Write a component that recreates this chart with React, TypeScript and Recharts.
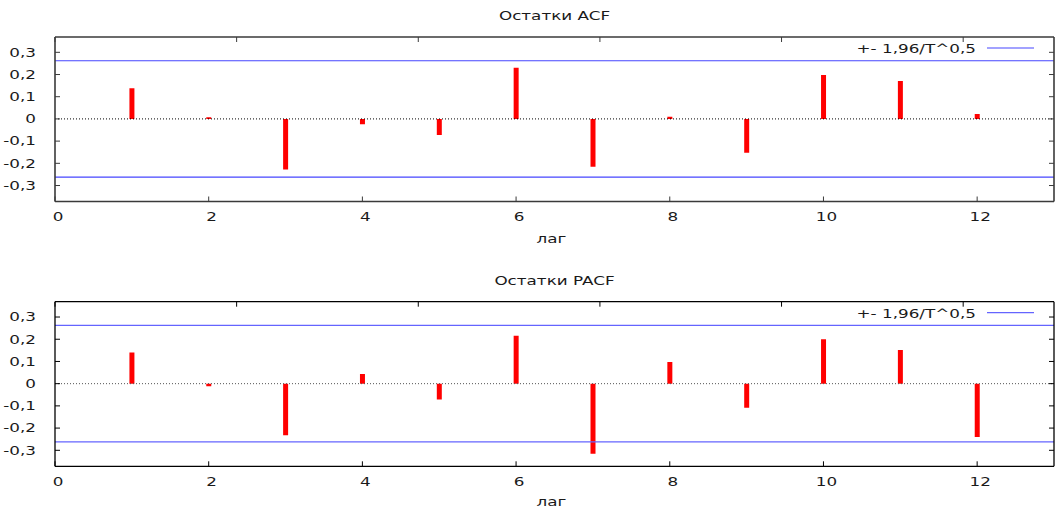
import React from "react";
import { ComposedChart, Bar, XAxis, YAxis, ReferenceLine } from "recharts";

// Residual autocorrelations by lag
const lags = [1, 2, 3, 4, 5, 6, 7, 8, 9, 10, 11, 12];
const acfValues = [0.138, 0.008, -0.228, -0.024, -0.072, 0.231, -0.215, 0.01, -0.152, 0.198, 0.171, 0.022];
const pacfValues = [0.14, -0.012, -0.232, 0.044, -0.071, 0.216, -0.315, 0.097, -0.108, 0.2, 0.152, -0.24];

const xTicks = [0, 2, 4, 6, 8, 10, 12];
const yTicks = [-0.3, -0.2, -0.1, 0, 0.1, 0.2, 0.3];
const xDomain: [number, number] = [0, 13];
const yDomain: [number, number] = [-0.372, 0.369];

// 95% band: +- 1.96 / sqrt(T)
const confidenceBound = 0.262;
const boundLabel = "+- 1,96/T^0,5";
const xAxisLabel = "лаг";

const FONT = "DejaVu Sans, sans-serif";
const TEXT_COLOR = "#1a1a1a";
const TICK_LEN = 5;

const formatY = (v: number) => (v === 0 ? "0" : v.toFixed(1).replace(".", ","));

// Text drawn in a horizontally widened face
function WideText({ x, y, anchor, children }: { x: number; y: number; anchor: "start" | "middle" | "end"; children: React.ReactNode }) {
  return (
    <text
      transform={`translate(${x},${y}) scale(1.4,1)`}
      x={0}
      y={0}
      dy="0.36em"
      textAnchor={anchor}
      fontFamily={FONT}
      fontSize={12}
      fill={TEXT_COLOR}
    >
      {children}
    </text>
  );
}

type PanelProps = {
  title: string;
  values: number[];
  height: number;
  marginTop: number;
  marginBottom: number;
  xLabelOffset: number;
  frameColor: string;
  frameWidth: number;
  boundColor: string;
  zeroColor: string;
};

function Panel({ title, values, height, marginTop, marginBottom, xLabelOffset, frameColor, frameWidth, boundColor, zeroColor }: PanelProps) {
  const data = lags.map((lag, i) => ({ lag, value: values[i] }));
  const tickStroke = frameColor;

  const leftTick = (p: any) => (
    <g>
      <line x1={p.x} y1={p.y} x2={p.x + TICK_LEN} y2={p.y} stroke={tickStroke} strokeWidth={1} />
      <WideText x={p.x - 19} y={p.y} anchor="end">{formatY(p.payload.value)}</WideText>
    </g>
  );
  const rightTick = (p: any) => (
    <line x1={p.x} y1={p.y} x2={p.x - TICK_LEN} y2={p.y} stroke={tickStroke} strokeWidth={1} />
  );
  const bottomTick = (p: any) => (
    <g>
      <line x1={p.x} y1={p.y} x2={p.x} y2={p.y - TICK_LEN} stroke={tickStroke} strokeWidth={1} />
      <WideText x={p.x + 3} y={p.y + 15.5} anchor="middle">{String(p.payload.value)}</WideText>
    </g>
  );
  const topTick = (p: any) => (
    <line x1={p.x} y1={p.y} x2={p.x} y2={p.y + TICK_LEN} stroke={tickStroke} strokeWidth={1} />
  );

  const titleContent = (props: any) => {
    const vb = props.viewBox;
    const right = vb.x + vb.width;
    const top = vb.y + vb.height;
    const legendY = top + 11;
    return (
      <g>
        <WideText x={vb.x + vb.width / 2} y={top - 21} anchor="middle">{title}</WideText>
        <WideText x={right - 78} y={legendY + 1} anchor="end">{boundLabel}</WideText>
        <line x1={right - 67} y1={legendY} x2={right - 20} y2={legendY} stroke={boundColor} strokeWidth={1.2} />
      </g>
    );
  };

  const xLabelContent = (props: any) => {
    const vb = props.viewBox;
    return <WideText x={vb.x + vb.width / 2 - 3} y={vb.y + xLabelOffset} anchor="middle">{xAxisLabel}</WideText>;
  };

  const frameLine = { stroke: frameColor, strokeWidth: frameWidth };

  return (
    <ComposedChart
      width={1055}
      height={height}
      data={data}
      margin={{ top: marginTop - 1, right: 0, bottom: marginBottom, left: 0 }}
    >
      <XAxis
        dataKey="lag"
        type="number"
        domain={xDomain}
        ticks={xTicks}
        allowDataOverflow
        height={40}
        tickSize={0}
        tickMargin={0}
        tickLine={false}
        axisLine={frameLine}
        tick={bottomTick}
        interval={0}
        label={{ content: xLabelContent }}
      />
      <XAxis
        xAxisId="top"
        orientation="top"
        type="number"
        domain={xDomain}
        ticks={xTicks}
        allowDataOverflow
        height={1}
        tickSize={0}
        tickMargin={0}
        tickLine={false}
        axisLine={frameLine}
        tick={topTick}
        interval={0}
        label={{ content: titleContent }}
      />
      <YAxis
        type="number"
        domain={yDomain}
        ticks={yTicks}
        allowDataOverflow
        width={55}
        tickSize={0}
        tickMargin={0}
        tickLine={false}
        axisLine={frameLine}
        tick={leftTick}
        interval={0}
      />
      <YAxis
        yAxisId="right"
        orientation="right"
        type="number"
        domain={yDomain}
        ticks={yTicks}
        allowDataOverflow
        width={1}
        tickSize={0}
        tickMargin={0}
        tickLine={false}
        axisLine={frameLine}
        tick={rightTick}
        interval={0}
      />
      <ReferenceLine y={0} stroke={zeroColor} strokeWidth={1} strokeDasharray="1 2" />
      <ReferenceLine y={confidenceBound} stroke={boundColor} strokeWidth={1.2} />
      <ReferenceLine y={-confidenceBound} stroke={boundColor} strokeWidth={1.2} />
      <Bar dataKey="value" fill="#ff0000" barSize={5} isAnimationActive={false} />
    </ComposedChart>
  );
}

export default function App() {
  return (
    <div style={{ position: "absolute", left: 0, top: 0, width: 1055, height: 509, background: "#ffffff" }}>
      <Panel
        title="Остатки ACF"
        values={acfValues}
        height={264}
        marginTop={37}
        marginBottom={22.5}
        xLabelOffset={37.5}
        frameColor="#3a3a3a"
        frameWidth={1.6}
        boundColor="#4646ff"
        zeroColor="#000000"
      />
      <Panel
        title="Остатки PACF"
        values={pacfValues}
        height={245}
        marginTop={37.7}
        marginBottom={2.7}
        xLabelOffset={35.7}
        frameColor="#000000"
        frameWidth={1.3}
        boundColor="#6464ff"
        zeroColor="#555555"
      />
    </div>
  );
}
